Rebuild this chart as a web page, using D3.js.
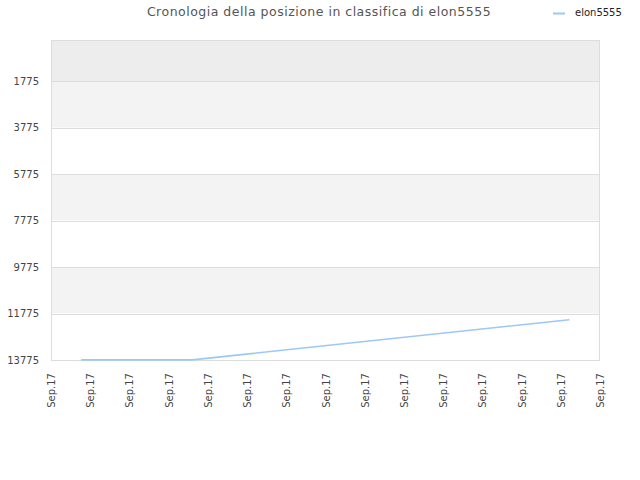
<!DOCTYPE html>
<html>
<head>
<meta charset="utf-8">
<script src="https://cdn.jsdelivr.net/npm/d3@7"></script>
<style>
  html, body { margin: 0; padding: 0; background: #fff; }
  svg { display: block; font-family: "DejaVu Sans", sans-serif; }
</style>
</head>
<body>
<svg id="chart" width="640" height="480"></svg>
<script>
// ---- data ----
const title = "Cronologia della posizione in classifica di elon5555";
const seriesName = "elon5555";
const xTickLabels = ["Sep.17","Sep.17","Sep.17","Sep.17","Sep.17","Sep.17","Sep.17","Sep.17","Sep.17","Sep.17","Sep.17","Sep.17","Sep.17","Sep.17","Sep.17"];
const yTicks = [1775, 3775, 5775, 7775, 9775, 11775, 13775];
const pointX = [0.77, 3.6, 13.22];          // position along the time axis (tick index units)
const pointRank = [13770, 13770, 12040];   // ranking position

// ---- layout ----
const svg = d3.select("#chart");
const margin = { left: 51, right: 600, top: 40, bottom: 360 };

const x = d3.scaleLinear().domain([0, xTickLabels.length - 1]).range([margin.left, margin.right]);
const y = d3.scaleLinear().domain([1, 13775]).range([margin.top, margin.bottom]);

// background bands
const bandEdges = [1].concat(yTicks);
const bandFills = ["#ededed", "#f3f3f3", "#ffffff", "#f3f3f3", "#ffffff", "#f3f3f3", "#ffffff"];
svg.append("g").selectAll("rect")
  .data(d3.pairs(bandEdges))
  .join("rect")
  .attr("x", margin.left)
  .attr("width", margin.right - margin.left)
  .attr("y", d => y(d[0]))
  .attr("height", d => y(d[1]) - y(d[0]))
  .attr("fill", (d, i) => bandFills[i]);

// grid lines
svg.append("g").selectAll("line")
  .data(yTicks)
  .join("line")
  .attr("x1", margin.left).attr("x2", margin.right)
  .attr("y1", d => Math.round(y(d)) + 0.5).attr("y2", d => Math.round(y(d)) + 0.5)
  .attr("stroke", "#dddddd").attr("stroke-width", 1);

// border
svg.append("rect")
  .attr("x", margin.left + 0.5).attr("y", margin.top + 0.5)
  .attr("width", margin.right - margin.left - 1).attr("height", margin.bottom - margin.top)
  .attr("fill", "none").attr("stroke", "#dddddd");

// y axis
const yAxis = d3.axisLeft(y).tickValues(yTicks).tickSize(0).tickPadding(12).tickFormat(d3.format("d"));
const gy = svg.append("g").attr("transform", `translate(${margin.left},0)`).call(yAxis);
gy.select(".domain").remove();
gy.selectAll("text").attr("font-size", 10).attr("fill", "#444").attr("font-family", "DejaVu Sans, sans-serif");

// x axis
const xAxis = d3.axisBottom(x).tickValues(d3.range(xTickLabels.length)).tickSize(0).tickFormat(i => xTickLabels[i]);
const gx = svg.append("g").attr("transform", `translate(0,${margin.bottom})`).call(xAxis);
gx.select(".domain").remove();
gx.selectAll("text")
  .attr("font-size", 10).attr("fill", "#444").attr("font-family", "DejaVu Sans, sans-serif")
  .attr("text-anchor", "end")
  .attr("transform", "rotate(-90)")
  .attr("x", -13).attr("y", 0).attr("dy", "0.35em");

// line
const pts = pointX.map((v, i) => [v, pointRank[i]]);
svg.append("path")
  .datum(pts)
  .attr("fill", "none")
  .attr("stroke", "#9cc8f5")
  .attr("stroke-width", 1.6)
  .attr("d", d3.line().x(d => x(d[0])).y(d => y(d[1])));

// title
svg.append("text")
  .attr("x", 319).attr("y", 16)
  .attr("text-anchor", "middle")
  .attr("font-size", 12.5)
  .attr("letter-spacing", "0.5px")
  .attr("fill", "#555")
  .text(title);

// legend
svg.append("line")
  .attr("x1", 553).attr("x2", 565).attr("y1", 13.5).attr("y2", 13.5)
  .attr("stroke", "#9cc8f5").attr("stroke-width", 2);
svg.append("text")
  .attr("x", 575).attr("y", 16)
  .attr("font-size", 10).attr("fill", "#222")
  .text(seriesName);
</script>
</body>
</html>
